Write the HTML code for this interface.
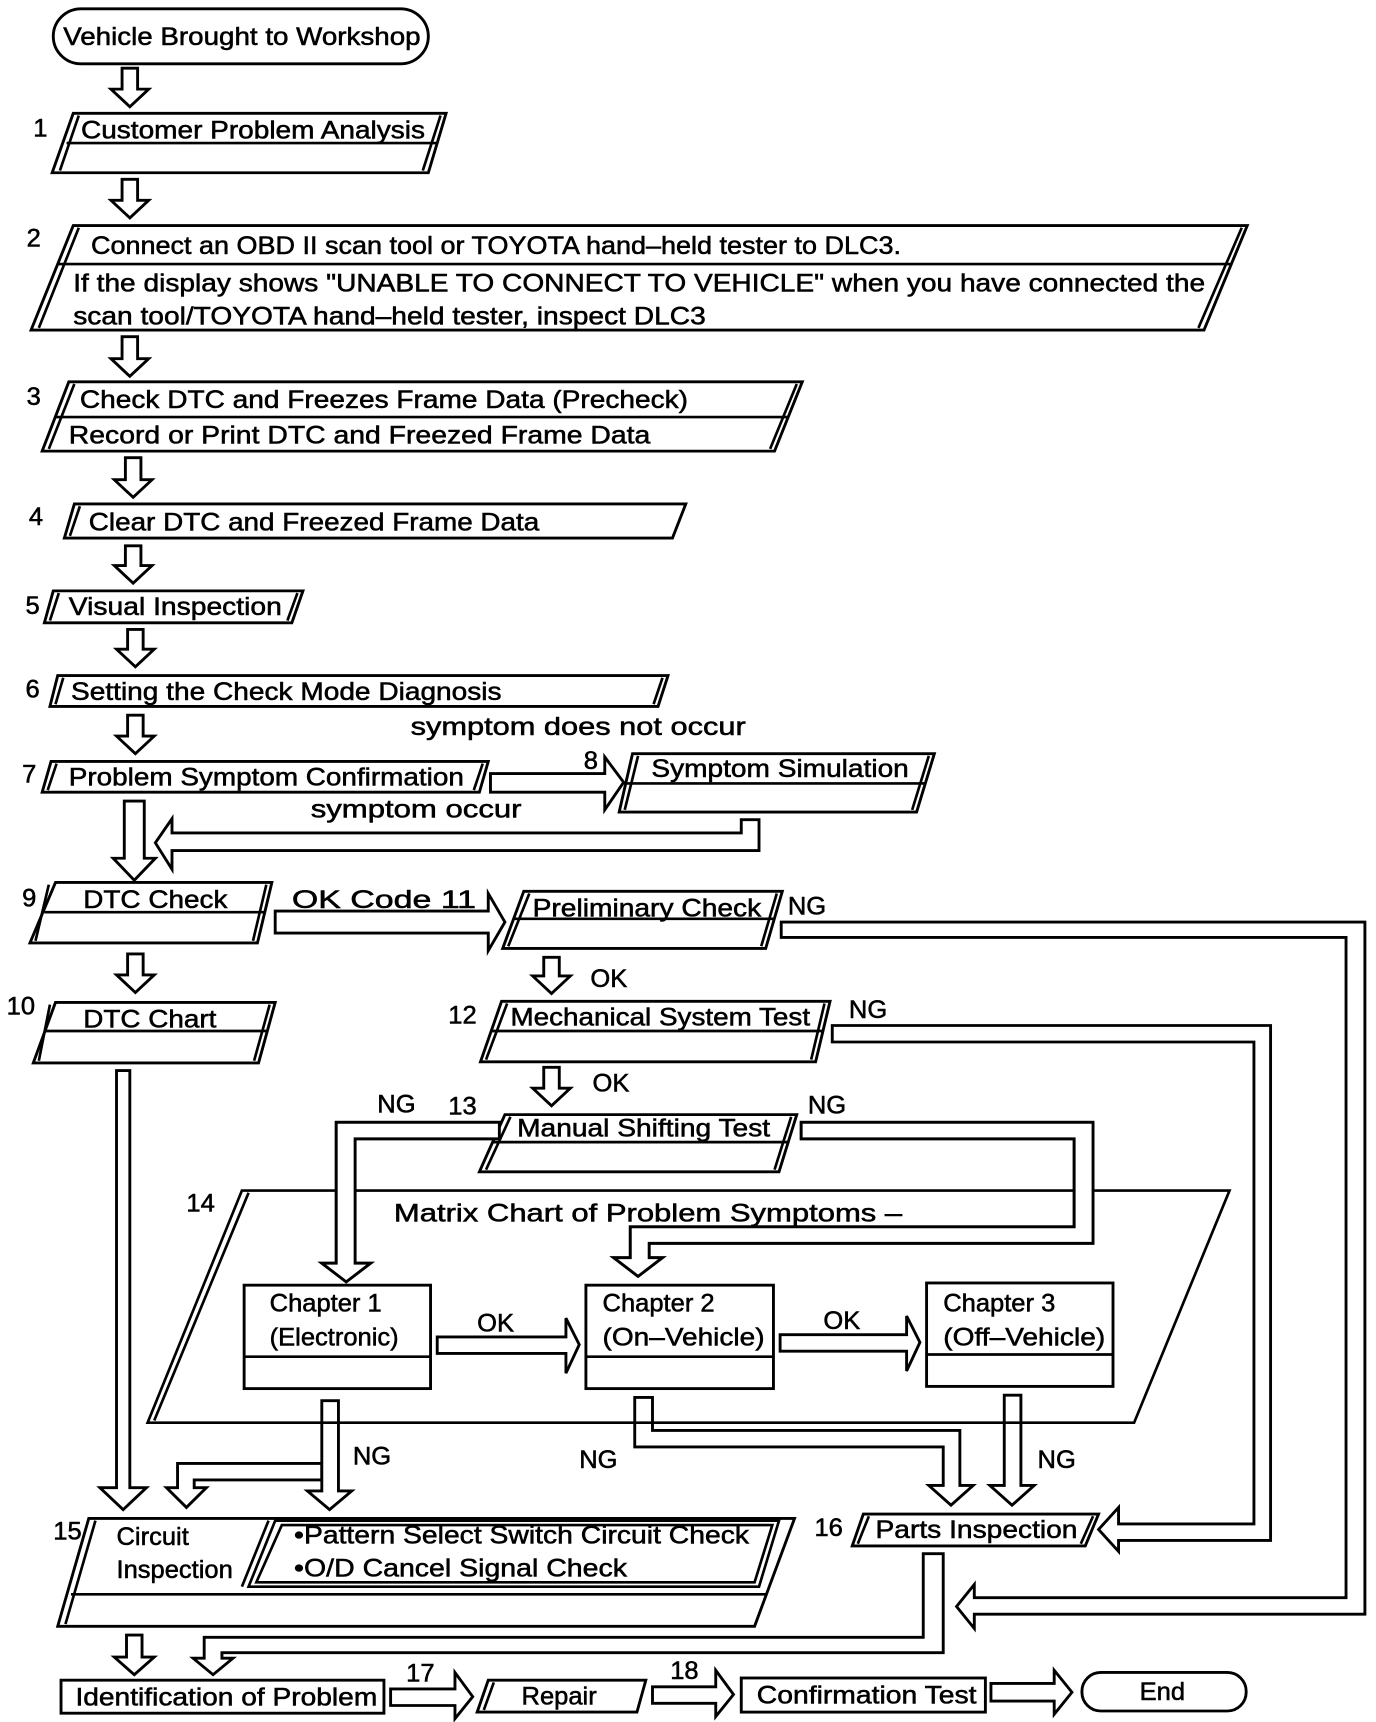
<!DOCTYPE html>
<html><head><meta charset="utf-8"><style>
html,body{margin:0;padding:0;background:#fff}
svg{display:block}
text{font-family:"Liberation Sans",Arial,sans-serif;font-size:23px;fill:#000;stroke:#000;stroke-width:0.5}
.s{fill:#fff;stroke:#000;stroke-width:2.6}
.l{fill:none;stroke:#000;stroke-width:2.4}
</style></head><body>
<svg width="1376" height="1722" viewBox="0 0 1240 1565" preserveAspectRatio="none" xmlns="http://www.w3.org/2000/svg">
<rect x="0" y="0" width="1240" height="1565" fill="#fff"/>
<rect class="s" x="48" y="8" width="338" height="50" rx="25"/>
<text x="57" y="41" textLength="322" lengthAdjust="spacingAndGlyphs">Vehicle Brought to Workshop</text>

<g class="s">
<polygon points="110,62 124,62 124,81 134,81 117,97 100,81 110,81"/>
<polygon points="110,163 124,163 124,182 134,182 117,198 100,182 110,182"/>
<polygon points="110,306 124,306 124,326 134,326 117,342 100,326 110,326"/>
<polygon points="113,416 127,416 127,436 137,436 120,452 103,436 113,436"/>
<polygon points="113,496 127,496 127,514 137,514 120,530 103,514 113,514"/>
<polygon points="115,572 129,572 129,590 139,590 122,606 105,590 115,590"/>
<polygon points="115,650 129,650 129,669 139,669 122,685 105,669 115,669"/>
<polygon points="115,867 129,867 129,886 139,886 122,902 105,886 115,886"/>
<polygon points="490,870 504,870 504,887 514,887 497,903 480,887 490,887"/>
<polygon points="490,970 504,970 504,989 514,989 497,1005 480,989 490,989"/>
<polygon points="112,728 130,728 130,780 140,780 121,800 102,780 112,780"/>
<polygon points="105,973 117,973 117,1352 132,1352 111,1372 90,1352 105,1352"/>
<polygon points="905,1268 920,1268 920,1350 932,1350 912,1368 892,1350 905,1350"/>
<polygon points="290,1330 160,1330 160,1352 150,1352 168,1370 186,1352 175,1352 175,1345 290,1345"/>
<polygon points="290,1273 305,1273 305,1355 317,1355 297,1372 277,1355 290,1355"/>
<polygon points="572,1270 588,1270 588,1300 865,1300 865,1350 877,1350 857,1368 837,1350 850,1350 850,1315 572,1315"/>
<polygon points="832,1412 850,1412 850,1502 200,1502 200,1507 210,1507 192,1522 174,1507 184,1507 184,1488 832,1488"/>
<polygon points="114,1486 128,1486 128,1506 139,1506 121,1522 103,1506 114,1506"/>
<polygon points="704,838 1230,838 1230,1467 878,1467 878,1480 862,1460 878,1440 878,1452 1213,1452 1213,852 704,852"/>
<polygon points="750,932 1145,932 1145,1400 1008,1400 1008,1410 990,1390 1008,1370 1008,1385 1130,1385 1130,947 750,947"/>
<polygon points="450,1020 303,1020 303,1148 290,1148 312,1165 334,1148 320,1148 320,1035 450,1035"/>
<polygon points="722,1020 985,1020 985,1130 585,1130 585,1143 597,1143 575,1160 553,1143 568,1143 568,1115 968,1115 968,1035 722,1035"/>
<polygon points="668,745 684,745 684,773 155,773 155,790 140,766 155,744 155,757 668,757"/>
<polygon points="442,703 545,703 545,688 562,711 545,736 545,720 442,720"/>
<polygon points="248,828 440,828 440,812 455,838 440,864 440,848 248,848"/>
<polygon points="352,1535 410,1535 410,1520 426,1542 410,1562 410,1550 352,1550"/>
<polygon points="588,1533 645,1533 645,1518 661,1540 645,1560 645,1548 588,1548"/>
<polygon points="893,1530 950,1530 950,1518 966,1538 950,1558 950,1546 893,1546"/>
</g>

<polygon class="s" points="66,103 402,103 386,157 47,157"/>
<line class="l" x1="60" y1="130" x2="394" y2="130"/>
<line class="l" x1="71" y1="105" x2="54" y2="155"/><line class="l" x1="397" y1="105" x2="381" y2="155"/>
<text x="30" y="124">1</text>
<text x="73" y="126" textLength="310" lengthAdjust="spacingAndGlyphs">Customer Problem Analysis</text>

<polygon class="s" points="66,205 1124,205 1085,300 28,300"/>
<line class="l" x1="52" y1="240" x2="1109" y2="240"/>
<line class="l" x1="71" y1="207" x2="35" y2="298"/><line class="l" x1="1119" y1="207" x2="1080" y2="298"/>
<text x="24" y="224">2</text>
<text x="82" y="231" textLength="730" lengthAdjust="spacingAndGlyphs">Connect an OBD II scan tool or TOYOTA hand–held tester to DLC3.</text>
<text x="66" y="265" textLength="1020" lengthAdjust="spacingAndGlyphs">If the display shows "UNABLE TO CONNECT TO VEHICLE" when you have connected the</text>
<text x="66" y="295" textLength="570" lengthAdjust="spacingAndGlyphs">scan tool/TOYOTA hand–held tester, inspect DLC3</text>

<polygon class="s" points="62,347 723,347 698,410 38,410"/>
<line class="l" x1="50" y1="379" x2="711" y2="379"/>
<line class="l" x1="67" y1="349" x2="44" y2="408"/><line class="l" x1="718" y1="349" x2="694" y2="408"/>
<text x="24" y="368">3</text>
<text x="72" y="371" textLength="548" lengthAdjust="spacingAndGlyphs">Check DTC and Freezes Frame Data (Precheck)</text>
<text x="62" y="403" textLength="524" lengthAdjust="spacingAndGlyphs">Record or Print DTC and  Freezed Frame Data</text>

<polygon class="s" points="67,458 618,458 606,489 58,489"/>
<line class="l" x1="72" y1="460" x2="63" y2="487"/>
<text x="26" y="477">4</text>
<text x="80" y="482" textLength="406" lengthAdjust="spacingAndGlyphs">Clear DTC and Freezed Frame Data</text>

<polygon class="s" points="48,537 273,537 263,566 40,566"/>
<line class="l" x1="53" y1="539" x2="45" y2="564"/><line class="l" x1="268" y1="539" x2="259" y2="564"/>
<text x="23" y="558">5</text>
<text x="62" y="559" textLength="192" lengthAdjust="spacingAndGlyphs">Visual Inspection</text>

<polygon class="s" points="52,614 602,614 593,642 45,642"/>
<line class="l" x1="57" y1="616" x2="50" y2="640"/><line class="l" x1="597" y1="616" x2="589" y2="640"/>
<text x="23" y="634">6</text>
<text x="64" y="636" textLength="388" lengthAdjust="spacingAndGlyphs">Setting the Check Mode Diagnosis</text>

<text x="370" y="668" textLength="302" lengthAdjust="spacingAndGlyphs">symptom does not occur</text>

<polygon class="s" points="46,692 440,692 432,720 38,720"/>
<line class="l" x1="51" y1="694" x2="43" y2="718"/><line class="l" x1="435" y1="694" x2="427" y2="718"/>
<text x="20" y="711">7</text>
<text x="62" y="714" textLength="356" lengthAdjust="spacingAndGlyphs">Problem Symptom Confirmation</text>
<text x="526" y="699">8</text>

<polygon class="s" points="570,685 842,685 826,738 558,738"/>
<line class="l" x1="563" y1="712" x2="834" y2="712"/>
<line class="l" x1="575" y1="687" x2="563" y2="736"/><line class="l" x1="837" y1="687" x2="822" y2="736"/>
<text x="587" y="706" textLength="232" lengthAdjust="spacingAndGlyphs">Symptom Simulation</text>
<text x="280" y="743" textLength="190" lengthAdjust="spacingAndGlyphs">symptom occur</text>

<polygon class="s" points="50,802 245,802 232,857 27,857"/>
<line class="l" x1="40" y1="829" x2="239" y2="829"/>
<line class="l" x1="44" y1="804" x2="32" y2="855"/><line class="l" x1="240" y1="804" x2="228" y2="855"/>
<text x="20" y="824">9</text>
<text x="75" y="825" textLength="130" lengthAdjust="spacingAndGlyphs">DTC Check</text>
<text x="263" y="825" textLength="166" lengthAdjust="spacingAndGlyphs">OK Code  11</text>

<polygon class="s" points="472,810 705,810 690,862 453,862"/>
<line class="l" x1="463" y1="835" x2="698" y2="835"/>
<line class="l" x1="477" y1="812" x2="458" y2="860"/><line class="l" x1="700" y1="812" x2="686" y2="860"/>
<text x="480" y="833" textLength="206" lengthAdjust="spacingAndGlyphs">Preliminary Check</text>
<text x="710" y="831">NG</text>

<polygon class="s" points="50,911 248,911 233,966 30,966"/>
<line class="l" x1="40" y1="937" x2="241" y2="937"/>
<line class="l" x1="45" y1="913" x2="35" y2="964"/><line class="l" x1="243" y1="913" x2="229" y2="964"/>
<text x="6" y="922">10</text>
<text x="75" y="934" textLength="120" lengthAdjust="spacingAndGlyphs">DTC Chart</text>

<text x="532" y="897">OK</text>
<polygon class="s" points="452,910 748,910 735,965 433,965"/>
<line class="l" x1="443" y1="937" x2="742" y2="937"/>
<line class="l" x1="457" y1="912" x2="438" y2="963"/><line class="l" x1="743" y1="912" x2="731" y2="963"/>
<text x="404" y="930">12</text>
<text x="460" y="932" textLength="270" lengthAdjust="spacingAndGlyphs">Mechanical System Test</text>
<text x="765" y="925">NG</text>

<text x="534" y="992">OK</text>
<polygon class="s" points="455,1013 718,1013 702,1065 432,1065"/>
<line class="l" x1="444" y1="1038" x2="710" y2="1038"/>
<line class="l" x1="460" y1="1015" x2="438" y2="1063"/><line class="l" x1="713" y1="1015" x2="698" y2="1063"/>
<text x="404" y="1013">13</text>
<text x="466" y="1033" textLength="228" lengthAdjust="spacingAndGlyphs">Manual Shifting Test</text>
<text x="340" y="1011">NG</text>
<text x="728" y="1012">NG</text>

<polygon class="l" points="218,1082 1108,1082 1022,1293 133,1293"/>
<line class="l" x1="224" y1="1084" x2="139" y2="1291"/>
<text x="168" y="1101">14</text>
<text x="355" y="1110" textLength="458" lengthAdjust="spacingAndGlyphs">Matrix Chart of Problem Symptoms –</text>
<polygon class="s" points="450,1020 303,1020 303,1148 290,1148 312,1165 334,1148 320,1148 320,1035 450,1035"/>
<polygon class="s" points="722,1020 985,1020 985,1130 585,1130 585,1143 597,1143 575,1160 553,1143 568,1143 568,1115 968,1115 968,1035 722,1035"/>

<rect class="s" x="220" y="1168" width="168" height="94"/><line class="l" x1="220" y1="1233" x2="388" y2="1233"/>
<text x="243" y="1192">Chapter 1</text><text x="243" y="1223">(Electronic)</text>
<rect class="s" x="528" y="1168" width="169" height="94"/><line class="l" x1="528" y1="1233" x2="697" y2="1233"/>
<text x="543" y="1192">Chapter 2</text><text x="543" y="1223" textLength="146" lengthAdjust="spacingAndGlyphs">(On–Vehicle)</text>
<rect class="s" x="835" y="1166" width="168" height="94"/><line class="l" x1="835" y1="1231" x2="1003" y2="1231"/>
<text x="850" y="1192">Chapter 3</text><text x="850" y="1223" textLength="146" lengthAdjust="spacingAndGlyphs">(Off–Vehicle)</text>
<g class="s">
<polygon points="394,1215 510,1215 510,1198 522,1222 510,1248 510,1230 394,1230"/>
<polygon points="703,1213 817,1213 817,1196 829,1220 817,1246 817,1228 703,1228"/>
</g>
<text x="430" y="1210">OK</text>
<text x="742" y="1208">OK</text>

<text x="318" y="1331">NG</text>
<text x="522" y="1334">NG</text>
<text x="935" y="1334">NG</text>

<polygon class="s" points="80,1380 716,1380 680,1478 52,1478"/>
<line class="l" x1="64" y1="1449" x2="690" y2="1449"/>
<line class="l" x1="86" y1="1382" x2="59" y2="1476"/>
<polygon class="l" points="248,1382 702,1382 684,1442 224,1442"/>
<polygon class="l" points="254,1386 696,1386 680,1438 231,1438"/>
<line class="l" x1="242" y1="1382" x2="218" y2="1442"/>
<text x="48" y="1399">15</text>
<text x="105" y="1404">Circuit</text>
<text x="105" y="1434">Inspection</text>
<text x="265" y="1403" textLength="410" lengthAdjust="spacingAndGlyphs">•Pattern Select Switch Circuit Check</text>
<text x="265" y="1433" textLength="300" lengthAdjust="spacingAndGlyphs">•O/D Cancel Signal Check</text>

<polygon class="s" points="778,1376 990,1376 978,1405 768,1405"/>
<line class="l" x1="783" y1="1378" x2="773" y2="1403"/><line class="l" x1="985" y1="1378" x2="974" y2="1403"/>
<text x="734" y="1396">16</text>
<text x="789" y="1398" textLength="182" lengthAdjust="spacingAndGlyphs">Parts Inspection</text>

<rect class="s" x="55" y="1527" width="291" height="30"/>
<text x="68" y="1550" textLength="272" lengthAdjust="spacingAndGlyphs">Identification of Problem</text>
<text x="366" y="1528">17</text>
<polygon class="s" points="440,1527 582,1527 574,1556 430,1556"/>
<line class="l" x1="445" y1="1529" x2="436" y2="1554"/>
<text x="470" y="1549">Repair</text>
<text x="604" y="1526">18</text>
<rect class="s" x="668" y="1525" width="220" height="31"/>
<text x="682" y="1548" textLength="198" lengthAdjust="spacingAndGlyphs">Confirmation Test</text>
<rect class="s" x="975" y="1520" width="148" height="35" rx="17"/>
<text x="1027" y="1545">End</text>
</svg>
</body></html>
